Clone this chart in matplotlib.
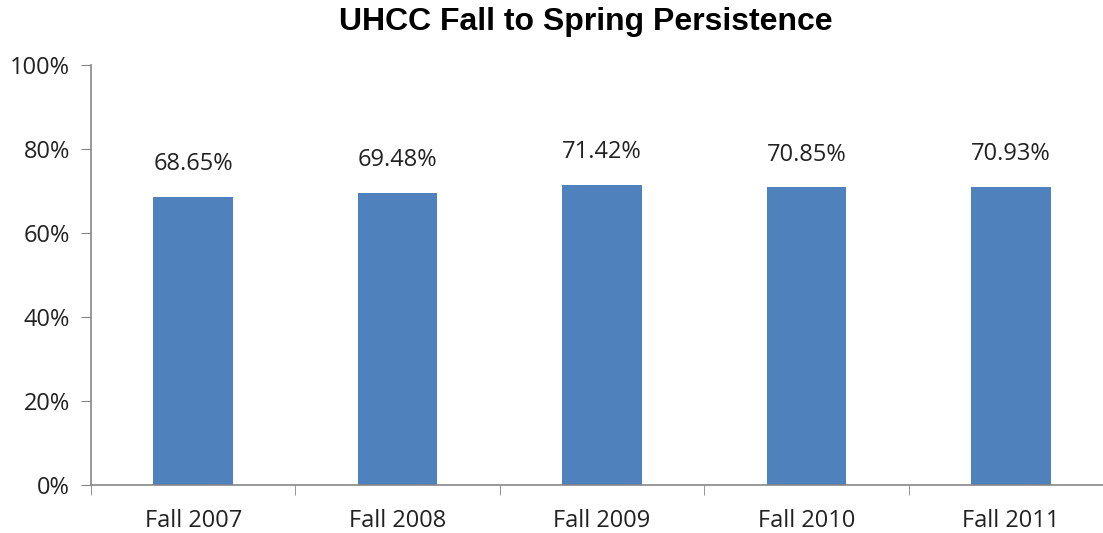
import matplotlib
matplotlib.use("Agg")
import matplotlib.pyplot as plt
import numpy as np

categories = ["Fall 2007", "Fall 2008", "Fall 2009", "Fall 2010", "Fall 2011"]
values = [68.65, 69.48, 71.42, 70.85, 70.93]
y_ticks = [0, 20, 40, 60, 80, 100]

BAR_BLUE = "#4F81BD"
AXIS_GREY = "#868686"
FONT = "Open Sans"

W, H = 1103, 533
fig = plt.figure(figsize=(W / 100, H / 100), dpi=100)
ax = fig.add_axes([91 / W, (H - 485) / H, 1022 / W, 420 / H])

x = np.arange(len(categories))
bars = ax.bar(x, values, width=0.39, color=BAR_BLUE, zorder=2)

for b, v in zip(bars, values):
    ax.annotate(f"{v:.2f}%", (b.get_x() + b.get_width() / 2, v),
                xytext=(0, 15), textcoords="offset points",
                ha="center", va="bottom", fontsize=17, family=FONT, color="#222222")

ax.set_xlim(-0.5, len(categories) - 0.5)
ax.set_ylim(0, 100)
ax.set_yticks(y_ticks)
ax.set_yticklabels([f"{t}%" for t in y_ticks], fontsize=17, family=FONT, color="#222222")
ax.set_xticks(x)
ax.set_xticklabels(categories, fontsize=17, family=FONT, color="#222222")
ax.set_xticks(np.arange(len(categories) + 1) - 0.5, minor=True)
ax.tick_params(axis="x", which="major", length=0, pad=17)
ax.tick_params(axis="x", which="minor", length=7, color=AXIS_GREY, direction="out")
ax.tick_params(axis="y", length=7, color=AXIS_GREY, direction="out", pad=8)

for side in ["top", "right"]:
    ax.spines[side].set_visible(False)
for side in ["left", "bottom"]:
    ax.spines[side].set_color(AXIS_GREY)
    ax.spines[side].set_linewidth(1.2)

fig.text(586 / W, 1 - 22 / H, "UHCC Fall to Spring Persistence", ha="center", va="center",
         fontsize=23, fontweight="bold", family="Liberation Sans")

fig.savefig("out.png", dpi=100, facecolor="white")
